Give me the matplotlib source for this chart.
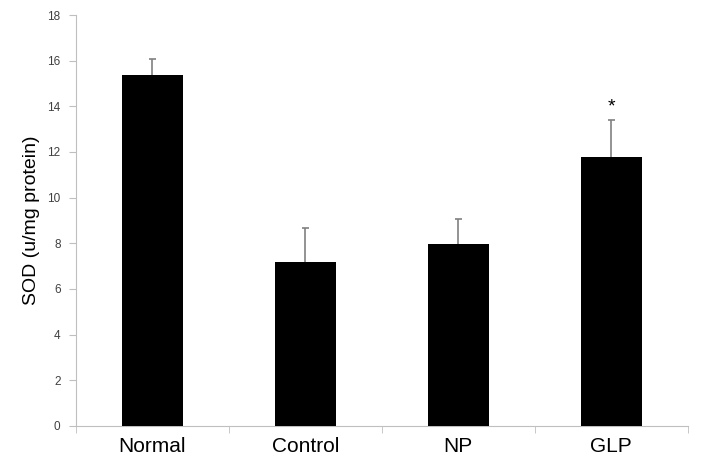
import matplotlib.pyplot as plt
import numpy as np

groups = ["Normal", "Control", "NP", "GLP"]
sod = [15.37, 7.2, 7.96, 11.78]
sd = [0.7, 1.47, 1.09, 1.61]
stars = ["", "", "", "*"]

plt.rcParams['font.family'] = ['Liberation Sans', 'DejaVu Sans']

fig = plt.figure(figsize=(7.15, 4.69), dpi=100)
ax = fig.add_axes([0.106, 0.092, 0.856, 0.876])

x = np.arange(len(groups))
top = np.array(sod) + np.array(sd)
ax.bar(x, sod, width=0.4, color="black", zorder=3)
# only the upper half of the error bar is shown
ax.vlines(x, sod, top, color="#808080", linewidth=1.2, zorder=2)
ax.hlines(top, x - 0.022, x + 0.022, color="#808080", linewidth=1.2, zorder=2)
for i in range(len(groups)):
    if stars[i]:
        ax.text(x[i], top[i] + 0.2, stars[i], ha="center", va="bottom", fontsize=14)

ax.set_xlim(-0.5, len(groups) - 0.5)
ax.set_ylim(0, 18)
ax.set_yticks(range(0, 19, 2))
ax.set_xticks(x)
ax.set_xticklabels(groups, fontsize=15)
ax.set_xticks(np.arange(-0.5, len(groups)), minor=True)
ax.tick_params(axis="x", which="major", length=0, pad=8)
ax.tick_params(axis="x", which="minor", length=5, color="#bfbfbf")
ax.tick_params(axis="y", length=5, color="#bfbfbf", labelsize=8.5, labelcolor="#404040", pad=6)
ax.set_ylabel("SOD (u/mg protein)", fontsize=14, labelpad=5)

for side in ["top", "right"]:
    ax.spines[side].set_visible(False)
for side in ["left", "bottom"]:
    ax.spines[side].set_color("#bfbfbf")

fig.savefig("out.png", dpi=100)
